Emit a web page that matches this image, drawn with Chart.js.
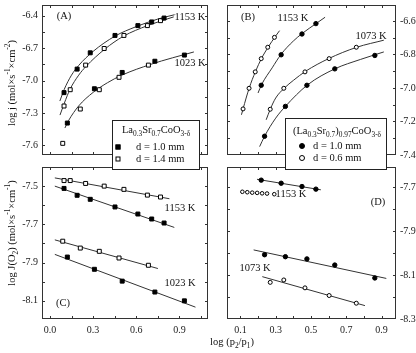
<!DOCTYPE html>
<html lang="en">
<head>
<meta charset="UTF-8" />
<title>Oxygen permeation flux</title>
<script src="https://cdn.jsdelivr.net/npm/chart.js"></script>
<style>
  body { margin: 0; width: 416px; height: 353px; position: relative; overflow: hidden; background: #fff;
         font-family: "Liberation Serif", "DejaVu Serif", serif; color: #111; }
  canvas { position: absolute; }
  .t { position: absolute; font-size: 10.5px; white-space: nowrap; transform: translate(-50%, -50%); line-height: 1; }
  .rot { transform: translate(-50%, -50%) rotate(-90deg); }
  sub, sup { font-size: 70%; line-height: 0; }
  .leg { position: absolute; border: 1px solid #222; background: #fff; box-sizing: border-box; }
  .leg span { position: absolute; white-space: nowrap; font-size: 10.5px; line-height: 1; transform: translateY(-50%); }
  .leg .ttl { transform: translate(-50%, -50%); }
  .mk { position: absolute; box-sizing: border-box; border: 1px solid #000; transform: translate(-50%, -50%); }
</style>
</head>
<body>
  <canvas id="cA" width="213" height="160" style="left:0;top:0"></canvas>
  <canvas id="cB" width="194" height="160" style="left:222px;top:0"></canvas>
  <canvas id="cC" width="213" height="178" style="left:0;top:162px"></canvas>
  <canvas id="cD" width="194" height="178" style="left:222px;top:162px"></canvas>

  <!-- panel texts -->
  <div class="t" style="left:64px;top:16px">(A)</div>
  <div class="t" style="left:190px;top:17px">1153 K</div>
  <div class="t" style="left:190px;top:63px">1023 K</div>
  <div class="t" style="left:248px;top:17px">(B)</div>
  <div class="t" style="left:293px;top:18px">1153 K</div>
  <div class="t" style="left:371px;top:36px">1073 K</div>
  <div class="t" style="left:180px;top:208px">1153 K</div>
  <div class="t" style="left:180px;top:283px">1023 K</div>
  <div class="t" style="left:63px;top:303px">(C)</div>
  <div class="t" style="left:291px;top:194px">1153 K</div>
  <div class="t" style="left:378px;top:202px">(D)</div>
  <div class="t" style="left:255px;top:268px">1073 K</div>

  <!-- axis titles -->
  <div class="t rot" style="left:12px;top:83px">log j (mol×s<sup>-1</sup>×cm<sup>-2</sup>)</div>
  <div class="t rot" style="left:12px;top:233px">log J(O<sub>2</sub>) (mol×s<sup>-1</sup>×cm<sup>-1</sup>)</div>
  <div class="t" style="left:232px;top:342px">log (p<sub>2</sub>/p<sub>1</sub>)</div>

  <!-- legends -->
  <div class="leg" style="left:112px;top:120px;width:88px;height:50px">
    <span class="ttl" style="left:43px;top:9px">La<sub>0.3</sub>Sr<sub>0.7</sub>CoO<sub>3-δ</sub></span>
    <div class="mk" style="left:5px;top:26px;width:5px;height:5px;background:#000"></div>
    <span style="left:23px;top:26px">d = 1.0 mm</span>
    <div class="mk" style="left:5px;top:38px;width:5px;height:5px;background:#fff"></div>
    <span style="left:23px;top:38px">d = 1.4 mm</span>
  </div>
  <div class="leg" style="left:285px;top:118px;width:102px;height:52px">
    <span class="ttl" style="left:51px;top:12px">(La<sub>0.3</sub>Sr<sub>0.7</sub>)<sub>0.97</sub>CoO<sub>3-δ</sub></span>
    <div class="mk" style="left:16px;top:27px;width:6px;height:6px;border-radius:50%;background:#000"></div>
    <span style="left:27px;top:27px">d = 1.0 mm</span>
    <div class="mk" style="left:16px;top:39px;width:6px;height:6px;border-radius:50%;background:#fff"></div>
    <span style="left:27px;top:39px">d = 0.6 mm</span>
  </div>

<script>
// ---- x positions, La0.3Sr0.7CoO3 (panels A and C) ----
const xThick1153 = [0.098, 0.189, 0.280, 0.452, 0.611, 0.707, 0.793];
const xThin1153 = [0.098, 0.141, 0.248, 0.377, 0.514, 0.677, 0.768];
const xThick1023 = [0.121, 0.309, 0.502, 0.729, 0.934];
const xThin1023 = [0.089, 0.211, 0.343, 0.480, 0.684];

// panel A: log j
const yA_thick1153 = [-7.112, -6.894, -6.743, -6.582, -6.491, -6.457, -6.421];
const yA_thin1153 = [-7.236, -7.085, -6.857, -6.703, -6.582, -6.491, -6.445];
const yA_thick1023 = [-7.394, -7.076, -6.925, -6.821, -6.764];
const yA_thin1023 = [-7.582, -7.264, -7.085, -6.970, -6.857];
// fitted curves in A
const cA_thick1153_x = [0.069, 0.10, 0.15, 0.20, 0.30, 0.45, 0.60, 0.75, 0.866];
const cA_thick1153_y = [-7.19, -7.08, -6.95, -6.86, -6.73, -6.59, -6.50, -6.43, -6.39];
const cA_thin1153_x = [0.070, 0.10, 0.14, 0.20, 0.25, 0.38, 0.51, 0.68, 0.86];
const cA_thin1153_y = [-7.32, -7.21, -7.08, -6.95, -6.87, -6.71, -6.59, -6.49, -6.41];
const cA_1023_x = [0.104, 0.13, 0.20, 0.30, 0.40, 0.50, 0.70, 0.85, 1.0];
const cA_1023_y = [-7.44, -7.37, -7.235, -7.11, -7.02, -6.95, -6.85, -6.79, -6.735];

// panel C: log J(O2)
const yC_thick1153 = [-7.512, -7.548, -7.569, -7.609, -7.646, -7.672, -7.693];
const yC_thin1153 = [-7.471, -7.471, -7.486, -7.500, -7.517, -7.547, -7.557];
const yC_thick1023 = [-7.871, -7.935, -7.997, -8.054, -8.100];
const yC_thin1023 = [-7.788, -7.824, -7.841, -7.876, -7.914];
// fitted lines in C (end points)
const lC_thin1153_x = [0.034, 0.83], lC_thin1153_y = [-7.457, -7.566];
const lC_thick1153_x = [0.034, 0.864], lC_thick1153_y = [-7.50, -7.716];
const lC_thin1023_x = [0.034, 0.75], lC_thin1023_y = [-7.781, -7.931];
const lC_thick1023_x = [0.034, 1.011], lC_thick1023_y = [-7.857, -8.133];

// ---- x positions, (La0.3Sr0.7)0.97CoO3 (panels B and D) ----
const xThick1153B = [0.218, 0.331, 0.449, 0.528];
const xThin1153B = [0.115, 0.149, 0.184, 0.218, 0.255, 0.293];
const xThin1153D = [0.111, 0.139, 0.167, 0.195, 0.223, 0.251, 0.292];
const xThick1073 = [0.237, 0.355, 0.477, 0.635, 0.862];
const xThin1073 = [0.269, 0.346, 0.466, 0.603, 0.757];

// panel B
const yB_thick1153 = [-6.984, -6.802, -6.678, -6.616];
const yB_thin1153 = [-7.125, -7.002, -6.904, -6.825, -6.757, -6.698];
const yB_thick1073 = [-7.288, -7.110, -6.984, -6.886, -6.806];
const yB_thin1073 = [-7.127, -7.002, -6.904, -6.825, -6.757];
const cB_thin1153_x = [0.106, 0.115, 0.15, 0.185, 0.22, 0.26, 0.295, 0.322];
const cB_thin1153_y = [-7.16, -7.125, -7.0, -6.903, -6.823, -6.752, -6.697, -6.658];
const cB_thick1153_x = [0.20, 0.22, 0.28, 0.33, 0.40, 0.45, 0.53, 0.58];
const cB_thick1153_y = [-7.03, -6.98, -6.88, -6.80, -6.72, -6.675, -6.615, -6.578];
const cB_thin1073_x = [0.246, 0.27, 0.30, 0.35, 0.40, 0.47, 0.60, 0.76, 0.913];
const cB_thin1073_y = [-7.19, -7.125, -7.06, -7.0, -6.955, -6.90, -6.825, -6.757, -6.715];
const cB_thick1073_x = [0.209, 0.237, 0.30, 0.355, 0.48, 0.635, 0.78, 0.913];
const cB_thick1073_y = [-7.35, -7.288, -7.18, -7.11, -6.982, -6.886, -6.83, -6.785];

// panel D
const yD_thick1153 = [-7.667, -7.681, -7.696, -7.708];
const yD_thin1153 = [-7.720, -7.722, -7.724, -7.725, -7.727, -7.728, -7.731];
const yD_thick1073 = [-8.007, -8.016, -8.026, -8.054, -8.113];
const yD_thin1073 = [-8.133, -8.122, -8.158, -8.193, -8.228];
const lD_thick1153_x = [0.194, 0.556], lD_thick1153_y = [-7.663, -7.711];
const lD_thick1073_x = [0.175, 0.927], lD_thick1073_y = [-7.985, -8.115];
const lD_thin1073_x = [0.224, 0.806], lD_thin1073_y = [-8.107, -8.239];

// ---- tick labels and tick marks ----
const ticksX_AC = [0.0, 0.3, 0.6, 0.9];
const marksX_AC = [0, 0.15, 0.3, 0.45, 0.6, 0.75, 0.9, 1.05];
const ticksX_BD = [0.1, 0.3, 0.5, 0.7, 0.9];
const marksX_BD = [0.1, 0.2, 0.3, 0.4, 0.5, 0.6, 0.7, 0.8, 0.9];
const ticksY_A = [-6.4, -6.7, -7.0, -7.3, -7.6];
const marksY_A = [-6.4, -6.55, -6.7, -6.85, -7.0, -7.15, -7.3, -7.45, -7.6];
const ticksY_B = [-6.6, -6.8, -7.0, -7.2, -7.4];
const marksY_B = [-6.6, -6.7, -6.8, -6.9, -7.0, -7.1, -7.2, -7.3];
const ticksY_C = [-7.5, -7.7, -7.9, -8.1];
const marksY_C = [-7.5, -7.6, -7.7, -7.8, -7.9, -8.0, -8.1];
const ticksY_D = [-7.7, -7.9, -8.1, -8.3];
const marksY_D = [-7.7, -7.8, -7.9, -8.0, -8.1, -8.2];

const FONT = { family: '"Liberation Serif", serif', size: 10 };

function pts(xs, ys) { return xs.map((x, i) => ({ x: x, y: ys[i] })); }

function marks(xs, ys, shape, filled, r) {
    return {
        data: pts(xs, ys), showLine: false, pointStyle: shape, pointRadius: r,
        pointBackgroundColor: filled ? '#000' : '#fff', pointBorderColor: '#000',
        pointBorderWidth: 1, order: 0
    };
}

function curve(xs, ys) {
    return {
        data: pts(xs, ys), showLine: true, pointRadius: 0, borderColor: '#333',
        borderWidth: 1, fill: false, cubicInterpolationMode: 'monotone', order: 1
    };
}

// frame + inward ticks on all four sides
const frameTicks = {
    id: 'frameTicks',
    afterDatasetsDraw(chart, args, opts) {
        const ctx = chart.ctx, a = chart.chartArea, x = chart.scales.x, y = chart.scales.y;
        ctx.save();
        ctx.strokeStyle = '#333';
        ctx.lineWidth = 1;
        ctx.strokeRect(Math.round(a.left) + 0.5, Math.round(a.top) + 0.5,
            Math.round(a.right - a.left) - 1, Math.round(a.bottom - a.top) - 1);
        ctx.beginPath();
        opts.xMarks.forEach(v => {
            const p = Math.round(x.getPixelForValue(v)) + 0.5;
            ctx.moveTo(p, a.top); ctx.lineTo(p, a.top + 3);
            ctx.moveTo(p, a.bottom); ctx.lineTo(p, a.bottom - 3);
        });
        opts.yMarks.forEach(v => {
            const p = Math.round(y.getPixelForValue(v)) + 0.5;
            ctx.moveTo(a.left, p); ctx.lineTo(a.left + 3, p);
            ctx.moveTo(a.right, p); ctx.lineTo(a.right - 3, p);
        });
        ctx.stroke();
        ctx.restore();
    }
};

function panel(id, p) {
    new Chart(document.getElementById(id), {
        type: 'scatter',
        data: { datasets: p.datasets },
        options: {
            responsive: false,
            animation: false,
            layout: { padding: p.padding },
            plugins: {
                legend: { display: false },
                tooltip: { enabled: false },
                frameTicks: { xMarks: p.xMarks, yMarks: p.yMarks }
            },
            scales: {
                x: {
                    type: 'linear', min: p.xMin, max: p.xMax, display: p.showX,
                    grid: { display: false, drawTicks: false }, border: { display: false },
                    ticks: { font: FONT, color: '#222', padding: 5, autoSkip: false, maxRotation: 0,
                             callback: v => v.toFixed(1) },
                    afterBuildTicks: s => { s.ticks = p.xTicks.map(v => ({ value: v })); },
                    afterFit: s => { if (p.showX) s.height = 21; s.paddingLeft = 0; s.paddingRight = 0; }
                },
                y: {
                    type: 'linear', min: p.yMin, max: p.yMax, position: p.yPos,
                    grid: { display: false, drawTicks: false }, border: { display: false },
                    ticks: { font: FONT, color: '#222', padding: 4, autoSkip: false,
                             callback: v => v.toFixed(1) },
                    afterBuildTicks: s => { s.ticks = p.yTicks.map(v => ({ value: v })); },
                    afterFit: s => { s.width = p.yPos === 'left' ? 42 : 20; s.paddingTop = 0; s.paddingBottom = 0; }
                }
            }
        },
        plugins: [frameTicks]
    });
}

panel('cA', {
    xMin: -0.055, xMax: 1.098, yMin: -7.69, yMax: -6.30, showX: false, yPos: 'left',
    xTicks: ticksX_AC, xMarks: marksX_AC, yTicks: ticksY_A, yMarks: marksY_A,
    padding: { top: 3, right: 2, bottom: 4, left: 0 },
    datasets: [
        marks(xThick1153, yA_thick1153, 'rect', true, 2.8),
        marks(xThin1153, yA_thin1153, 'rect', false, 2.8),
        marks(xThick1023, yA_thick1023, 'rect', true, 2.8),
        marks(xThin1023, yA_thin1023, 'rect', false, 2.8),
        curve(cA_thick1153_x, cA_thick1153_y),
        curve(cA_thin1153_x, cA_thin1153_y),
        curve(cA_1023_x, cA_1023_y)
    ]
});

panel('cB', {
    xMin: 0.024, xMax: 0.982, yMin: -7.40, yMax: -6.505, showX: false, yPos: 'right',
    xTicks: ticksX_BD, xMarks: marksX_BD, yTicks: ticksY_B, yMarks: marksY_B,
    padding: { top: 3, right: 0, bottom: 4, left: 4 },
    datasets: [
        marks(xThick1153B, yB_thick1153, 'circle', true, 2.2),
        marks(xThin1153B, yB_thin1153, 'circle', false, 2.0),
        marks(xThick1073, yB_thick1073, 'circle', true, 2.2),
        marks(xThin1073, yB_thin1073, 'circle', false, 2.0),
        curve(cB_thin1153_x, cB_thin1153_y),
        curve(cB_thick1153_x, cB_thick1153_y),
        curve(cB_thin1073_x, cB_thin1073_y),
        curve(cB_thick1073_x, cB_thick1073_y)
    ]
});

panel('cC', {
    xMin: -0.055, xMax: 1.098, yMin: -8.195, yMax: -7.40, showX: true, yPos: 'left',
    xTicks: ticksX_AC, xMarks: marksX_AC, yTicks: ticksY_C, yMarks: marksY_C,
    padding: { top: 4, right: 2, bottom: 0, left: 0 },
    datasets: [
        marks(xThick1153, yC_thick1153, 'rect', true, 2.8),
        marks(xThin1153, yC_thin1153, 'rect', false, 2.8),
        marks(xThick1023, yC_thick1023, 'rect', true, 2.8),
        marks(xThin1023, yC_thin1023, 'rect', false, 2.8),
        curve(lC_thin1153_x, lC_thin1153_y),
        curve(lC_thick1153_x, lC_thick1153_y),
        curve(lC_thin1023_x, lC_thin1023_y),
        curve(lC_thick1023_x, lC_thick1023_y)
    ]
});

panel('cD', {
    xMin: 0.024, xMax: 0.982, yMin: -8.30, yMax: -7.607, showX: true, yPos: 'right',
    xTicks: ticksX_BD, xMarks: marksX_BD, yTicks: ticksY_D, yMarks: marksY_D,
    padding: { top: 4, right: 0, bottom: 0, left: 4 },
    datasets: [
        marks(xThick1153B, yD_thick1153, 'circle', true, 2.2),
        marks(xThin1153D, yD_thin1153, 'circle', false, 1.8),
        marks(xThick1073, yD_thick1073, 'circle', true, 2.2),
        marks(xThin1073, yD_thin1073, 'circle', false, 2.0),
        curve(lD_thick1153_x, lD_thick1153_y),
        curve(lD_thick1073_x, lD_thick1073_y),
        curve(lD_thin1073_x, lD_thin1073_y)
    ]
});
</script>
</body>
</html>
